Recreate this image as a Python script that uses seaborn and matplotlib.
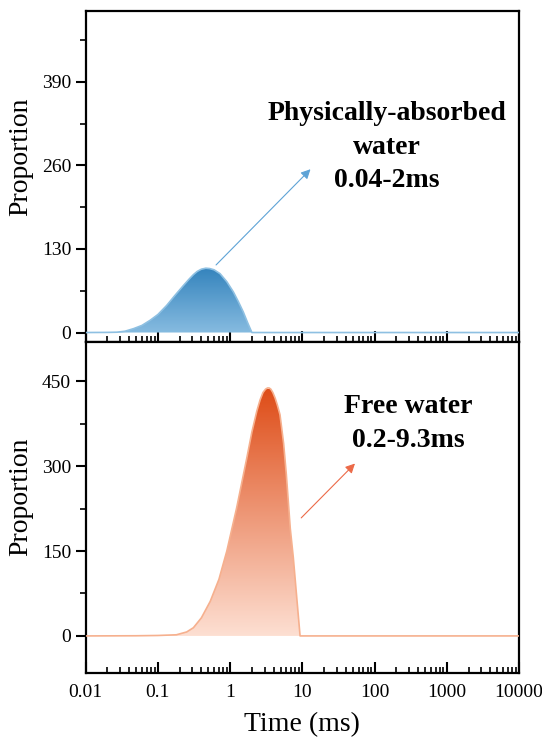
import numpy as np
import pandas as pd
import matplotlib
matplotlib.use("Agg")
import matplotlib.pyplot as plt
import matplotlib.transforms as mtransforms
from matplotlib.colors import LinearSegmentedColormap
import seaborn as sns

# ---------------- data ----------------
blue_time = [0.01, 0.02, 0.027, 0.035, 0.046, 0.06, 0.078, 0.1, 0.132, 0.17, 0.225,
             0.27, 0.31, 0.35, 0.4, 0.46, 0.52, 0.6, 0.725, 0.9, 1.11, 1.3, 1.52,
             1.75, 2.0, 10000]
blue_prop = [0, 0.2, 0.5, 2, 6, 11, 19, 28, 42, 57, 73,
             83, 90, 95, 98.5, 100, 99.5, 97.5, 91.5, 79, 63, 48, 32,
             15, 0, 0]

orange_time = [0.01, 0.05, 0.1, 0.18, 0.25, 0.31, 0.4, 0.53, 0.7, 0.9, 1.23, 1.7,
               2.0, 2.34, 2.6, 2.85, 3.1, 3.3, 3.46, 3.65, 3.9, 4.2, 4.5, 4.9,
               5.5, 6.0, 6.8, 7.5, 8.4, 9.3, 10000]
orange_prop = [0, 0.3, 0.8, 2, 7, 14.5, 32, 61, 100, 150, 226, 314,
               360, 397, 417, 430, 436, 438, 438, 436, 430, 420, 408, 391,
               340, 285, 190, 138, 65, 0, 0]

x_ticks = [0.01, 0.1, 1, 10, 100, 1000, 10000]
x_tick_labels = ["0.01", "0.1", "1", "10", "100", "1000", "10000"]
top_yticks = [0, 130, 260, 390]
bottom_yticks = [0, 150, 300, 450]

top_label = "Physically-absorbed\nwater\n0.04-2ms"
bottom_label = "Free water\n0.2-9.3ms"

# ---------------- style ----------------
sns.set_style("ticks")
plt.rcParams["font.family"] = ["Liberation Serif", "DejaVu Serif"]
plt.rcParams["axes.linewidth"] = 1.6
plt.rcParams["text.color"] = "black"
plt.rcParams["axes.labelcolor"] = "black"
plt.rcParams["xtick.color"] = "black"
plt.rcParams["ytick.color"] = "black"

fig = plt.figure(figsize=(5.42, 7.37), dpi=100)
ax1 = fig.add_axes([0.1581, 0.5366, 0.7995, 0.4485])
ax2 = fig.add_axes([0.1581, 0.0872, 0.7995, 0.4494])


def gradient_fill(ax, x, y, c_top, c_bottom, line_color):
    df = pd.DataFrame({"Time": x, "Proportion": y})
    sns.lineplot(data=df, x="Time", y="Proportion", ax=ax, color=line_color,
                 lw=1.2, zorder=3, estimator=None, sort=False)
    poly = ax.fill_between(x, 0, y, color="none", lw=0)
    path = poly.get_paths()[0]
    cmap = LinearSegmentedColormap.from_list("g", [c_bottom, c_top])
    grad = np.linspace(0, 1, 256).reshape(-1, 1)
    trans = mtransforms.blended_transform_factory(ax.transAxes, ax.transData)
    im = ax.imshow(grad, aspect="auto", cmap=cmap, origin="lower",
                   extent=(0, 1, 0, max(y)), transform=trans, zorder=2)
    im.set_clip_path(path, transform=ax.transData)


gradient_fill(ax1, blue_time, blue_prop, "#3584bd", "#86bbe0", "#8ec0e2")
gradient_fill(ax2, orange_time, orange_prop, "#de4c17", "#fddfd2", "#f6b08e")

for ax in (ax1, ax2):
    ax.set_xscale("log")
    ax.set_xlim(0.01, 10000)
    ax.set_xticks(x_ticks)
    ax.xaxis.set_minor_locator(matplotlib.ticker.LogLocator(base=10, subs=np.arange(2, 10)))
    ax.tick_params(axis="x", which="major", direction="in", length=8, width=1.5,
                   top=False, labelsize=14, pad=8)
    ax.tick_params(axis="x", which="minor", direction="in", length=4, width=1.2, top=False)
    ax.tick_params(axis="y", which="major", direction="out", length=7, width=1.5,
                   right=False, labelsize=14)
    ax.tick_params(axis="y", which="minor", direction="out", length=4, width=1.2, right=False)
    for s in ax.spines.values():
        s.set_visible(True)
        s.set_linewidth(1.6)
        s.set_color("black")
    ax.set_ylabel("Proportion", fontsize=20)

ax1.set_ylim(-14, 500)
ax1.set_yticks(top_yticks)
ax1.set_yticks([65, 195, 325, 455], minor=True)
ax1.set_xticklabels([])
ax1.set_xlabel("")
ax1.yaxis.set_label_coords(-0.122, 0.558)

ax2.set_ylim(-65, 520)
ax2.set_yticks(bottom_yticks)
ax2.set_yticks([75, 225, 375], minor=True)
ax2.set_xticklabels(x_tick_labels)
ax2.set_xlabel("Time (ms)", fontsize=20, labelpad=8)
ax2.yaxis.set_label_coords(-0.122, 0.53)

ax1.text(0.695, 0.5885, top_label, transform=ax1.transAxes, ha="center", va="center",
         multialignment="center", fontsize=20, fontweight="bold", linespacing=1.45)
ax2.text(0.744, 0.752, bottom_label, transform=ax2.transAxes, ha="center", va="center",
         multialignment="center", fontsize=20, fontweight="bold", linespacing=1.45)

ax1.annotate("", xy=(13.8, 257), xytext=(0.6, 102),
             arrowprops=dict(arrowstyle="-|>", color="#5ea3d6", lw=0.8, mutation_scale=14))
ax2.annotate("", xy=(57, 308), xytext=(9.06, 205),
             arrowprops=dict(arrowstyle="-|>", color="#ec6a48", lw=0.8, mutation_scale=14))

fig.savefig("out.png", dpi=100)
